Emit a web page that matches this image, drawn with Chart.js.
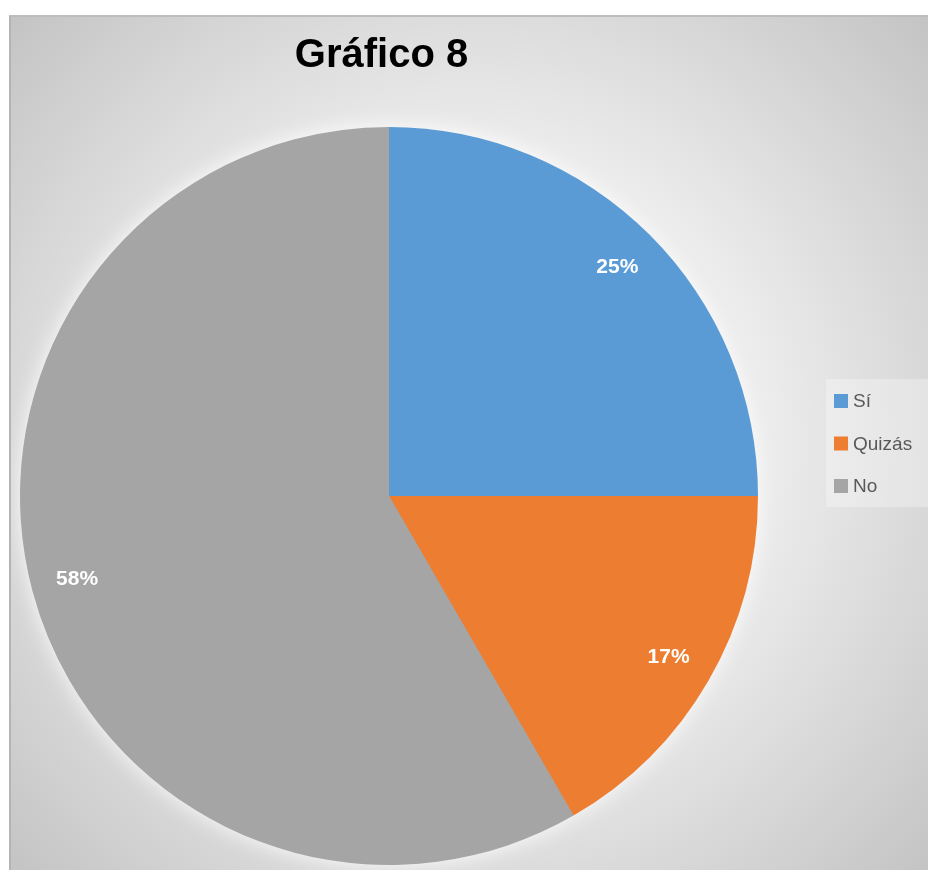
<!DOCTYPE html>
<html>
<head>
<meta charset="utf-8">
<style>
  html, body { margin: 0; padding: 0; background: #fff; }
  #wrap {
    position: absolute; left: 9px; top: 15px;
    width: 919px; height: 855px;
    border-left: 2px solid #b4b4b4; border-top: 2px solid #bdbdbd;
    box-sizing: border-box;
    background: radial-gradient(circle 640px at 459px 427px,
      #f8f8f8 0px, #ececec 300px, #dedede 413px, #cdcdcd 552px, #c2c2c2 640px);
  }
</style>
<script src="https://cdn.jsdelivr.net/npm/chart.js"></script>
</head>
<body>
<div id="wrap"><canvas id="myChart"></canvas></div>

<script>
const chartTitle = 'Gráfico 8';
const categories = ['Sí', 'Quizás', 'No'];
// answer counts (3/12 = 25%, 2/12 = 17%, 7/12 = 58%)
const values = [3, 2, 7];
const sliceColors = ['#5B9BD5', '#ED7D31', '#A5A5A5'];

const ctx = document.getElementById('myChart').getContext('2d');
const FONT = '"Liberation Sans", Arial, sans-serif';

// glow behind the pie + title, labels, legend
const decor = {
  id: 'decor',
  beforeDatasetsDraw(chart) {
    const arc = chart.getDatasetMeta(0).data[0];
    if (!arc) return;
    const c = chart.ctx;
    c.save();
    c.shadowColor = 'rgba(255,255,255,0.95)';
    c.shadowBlur = 22;
    c.fillStyle = '#A5A5A5';
    c.beginPath();
    c.arc(arc.x, arc.y, arc.outerRadius - 1, 0, Math.PI * 2);
    c.fill();
    c.restore();
  },
  afterDraw(chart) {
    const c = chart.ctx;
    c.save();

    // title
    c.fillStyle = '#000';
    c.font = 'bold 40px ' + FONT;
    c.textAlign = 'center';
    c.textBaseline = 'alphabetic';
    c.fillText(chartTitle, 370.5, 50);

    // percentage labels
    const total = values.reduce((a, b) => a + b, 0);
    c.fillStyle = '#fff';
    c.font = 'bold 21px ' + FONT;
    c.textBaseline = 'middle';
    chart.getDatasetMeta(0).data.forEach((arc, i) => {
      const p = arc.getProps(['x', 'y', 'startAngle', 'endAngle', 'outerRadius'], true);
      const mid = (p.startAngle + p.endAngle) / 2;
      const r = p.outerRadius * 0.875;
      const pct = Math.round(values[i] / total * 100) + '%';
      c.fillText(pct, p.x + Math.cos(mid) * r, p.y + Math.sin(mid) * r);
    });

    // legend
    c.fillStyle = 'rgba(255,255,255,0.3)';
    c.fillRect(815, 362, 104, 128);
    c.font = '19px ' + FONT;
    c.textAlign = 'left';
    categories.forEach((lab, i) => {
      const y = 384 + i * 42.5;
      c.fillStyle = sliceColors[i];
      c.fillRect(823, y - 7, 14, 14);
      c.fillStyle = '#595959';
      c.fillText(lab, 842, y + 1);
    });
    c.restore();
  }
};

new Chart(ctx, {
  type: 'pie',
  data: {
    labels: categories,
    datasets: [{
      data: values,
      backgroundColor: sliceColors,
      borderWidth: 0
    }]
  },
  options: {
    responsive: true,
    maintainAspectRatio: false,
    animation: false,
    layout: { padding: { left: 9, right: 170, top: 110, bottom: 5 } },
    plugins: {
      legend: { display: false },
      title: { display: false },
      tooltip: { enabled: false }
    }
  },
  plugins: [decor]
});
</script>
</body>
</html>
